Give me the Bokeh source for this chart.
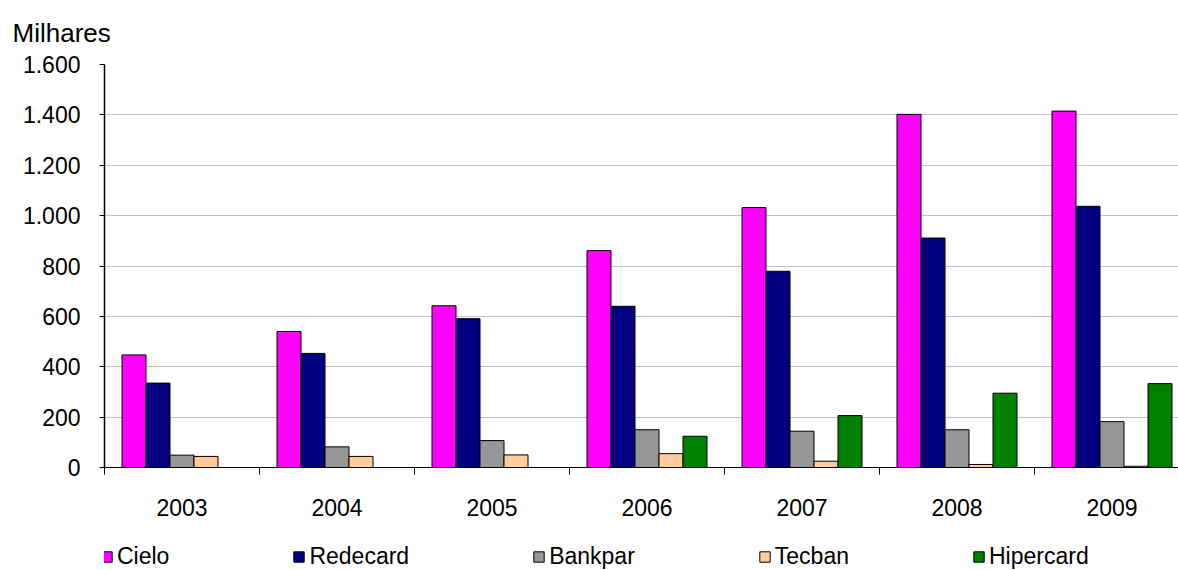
from bokeh.plotting import figure
from bokeh.layouts import column
from bokeh.models import Range1d, FixedTicker, CustomJSTickFormatter, Legend, LegendItem
from bokeh.embed import file_html
from bokeh.resources import INLINE

# dados (milhares)
years = ["2003", "2004", "2005", "2006", "2007", "2008", "2009"]
cielo = [447, 540, 642, 861, 1032, 1402, 1415]
redecard = [335, 453, 591, 640, 779, 911, 1037]
bankpar = [49, 82, 107, 150, 144, 150, 182]
tecban = [44, 44, 50, 55, 25, 12, 5]
hipercard = [0, 0, 0, 124, 206, 295, 333]

names = ["Cielo", "Redecard", "Bankpar", "Tecban", "Hipercard"]
series = [cielo, redecard, bankpar, tecban, hipercard]
colors = ["#FF00FF", "#000080", "#969696", "#FFCC99", "#008000"]
y_ticks = [0, 200, 400, 600, 800, 1000, 1200, 1400, 1600]

FONT = "Liberation Sans"
bw = 24 / 155.0

p = figure(width=1178, height=528, output_backend="svg", toolbar_location=None,
           x_range=Range1d(0, 1074 / 155.0), y_range=Range1d(0, 1600),
           min_border_left=104, min_border_right=0, min_border_top=64,
           min_border_bottom=61)
p.title.text = "Milhares"
p.title.text_font = FONT
p.title.text_font_size = "26px"
p.title.text_font_style = "normal"
p.title.text_color = "black"
p.title.align = "left"
p.title.vertical_align = "top"
p.title.offset = -92
p.title.standoff = 30
p.outline_line_color = None

for i in range(len(names)):
    xs = [k + 0.5 + (i - 2) * bw for k in range(len(years))]
    p.vbar(x=xs, top=series[i], width=bw, bottom=0,
           fill_color=colors[i], line_color="black", line_width=1)

# eixo x: separadores entre anos, rótulos no centro
p.xaxis.ticker = FixedTicker(ticks=[k + 0.5 for k in range(len(years))],
                             minor_ticks=list(range(len(years) + 1)))
p.xaxis.formatter = CustomJSTickFormatter(args=dict(years=years),
                                          code="return years[Math.floor(tick)];")
p.xaxis.major_tick_out = 0
p.xaxis.major_tick_in = 0
p.xaxis.minor_tick_out = 7
p.xaxis.minor_tick_in = 0
p.xaxis.minor_tick_line_color = "black"
p.xaxis.axis_line_color = "black"
p.xaxis.major_label_text_font = FONT
p.xaxis.major_label_text_font_size = "23px"
p.xaxis.major_label_text_color = "black"
p.xaxis.major_label_standoff = 24
p.xgrid.grid_line_color = None

p.yaxis.ticker = FixedTicker(ticks=y_ticks)
p.yaxis.formatter = CustomJSTickFormatter(
    code="return tick.toString().replace(/\\B(?=(\\d{3})+(?!\\d))/g, '.');")
p.yaxis.minor_tick_line_color = None
p.yaxis.major_tick_out = 5
p.yaxis.major_tick_in = 0
p.yaxis.axis_line_color = "black"
p.yaxis.axis_line_width = 1.5
p.yaxis.major_label_text_font = FONT
p.yaxis.major_label_text_font_size = "23px"
p.yaxis.major_label_text_color = "black"
p.yaxis.major_label_standoff = 19
p.ygrid.grid_line_color = "#c0c0c0"
p.ygrid.grid_line_width = 1

# legenda numa faixa separada por baixo
leg = figure(width=1178, height=42, output_backend="svg", toolbar_location=None,
             x_axis_type=None, y_axis_type=None, x_range=Range1d(0, 1), y_range=Range1d(0, 1),
             min_border=0)
leg.outline_line_color = None
leg.grid.grid_line_color = None
items = []
for i in range(len(names)):
    # barra de altura zero fora da área visível, só para a legenda ter o seu quadrado
    r = leg.vbar(x=[-5], top=[0], bottom=[0], width=0.1,
                 fill_color=colors[i], line_color="black", line_width=1)
    items.append(LegendItem(label=names[i], renderers=[r]))
legend = Legend(items=items, orientation="horizontal", location=(-4, 0))
legend.glyph_width = 13
legend.glyph_height = 13
legend.label_standoff = 4
legend.spacing = 123
legend.padding = 0
legend.margin = 0
legend.border_line_color = None
legend.background_fill_alpha = 0
legend.label_text_font = FONT
legend.label_text_font_size = "23px"
legend.label_text_color = "black"
legend.label_height = 20
leg.add_layout(legend, "center")

open("out.html", "w").write(file_html(column(p, leg, spacing=0), INLINE))
